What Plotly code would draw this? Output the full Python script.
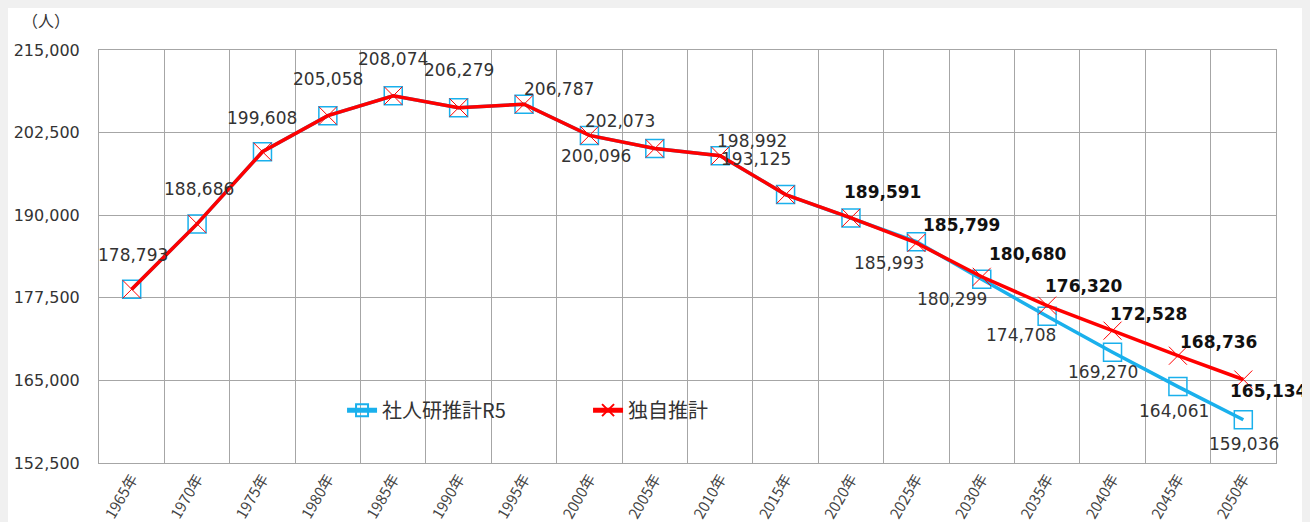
import plotly.graph_objects as go

years = ['1965年', '1970年', '1975年', '1980年', '1985年', '1990年', '1995年', '2000年', '2005年',
         '2010年', '2015年', '2020年', '2025年', '2030年', '2035年', '2040年', '2045年', '2050年']
ipss_r5 = [178793, 188686, 199608, 205058, 208074, 206279, 206787, 202073, 200096,
           198992, 193125, 189591, 185993, 180299, 174708, 169270, 164061, 159036]
own_est = [178793, 188686, 199608, 205058, 208074, 206279, 206787, 202073, 200096,
           198992, 193125, 189591, 185799, 180680, 176320, 172528, 168736, 165134]
y_ticks = [152500, 165000, 177500, 190000, 202500, 215000]

FONT = 'Noto Sans CJK JP'
NUM_FONT = 'DejaVu Sans'
BLUE = '#1ab0ec'
RED = '#ff0000'
GRID = '#a6a6a6'
TXT = '#333333'

# label offsets (px) relative to the point
hist_off = [(1, 34), (2, 35), (0, 34), (0, 37), (0, 37), (0, 38), (35, 15), (31, 14),
            (-59, -8), (32, 15), (-30, 36)]
own_off = [(32, 26), (45, 18), (46, 23), (37, 20), (36, 17), (41, 14), (26, -11)]
ipss_off = [(-27, -21), (-30, -20), (-26, -19), (-10, -20), (-4, -24), (1, -24)]

fig = go.Figure()
fig.add_trace(go.Scatter(x=years, y=ipss_r5, name='社人研推計R5', mode='lines+markers',
                         line=dict(color=BLUE, width=3.5),
                         marker=dict(symbol='square-open', size=18, color=BLUE, line=dict(width=1.5))))
fig.add_trace(go.Scatter(x=years, y=own_est, name='独自推計', mode='lines+markers',
                         line=dict(color=RED, width=3.5),
                         marker=dict(symbol='x-thin-open', size=18, color=RED, line=dict(width=1, color=RED))))

annos = []
for i, (dx, dy) in enumerate(hist_off):
    annos.append(dict(x=years[i], y=own_est[i], text=f'{own_est[i]:,}', showarrow=False,
                      xshift=dx, yshift=dy, font=dict(size=17, color=TXT, family=NUM_FONT)))
for j, (dx, dy) in enumerate(own_off):
    i = 11 + j
    annos.append(dict(x=years[i], y=own_est[i], text=f'<b>{own_est[i]:,}</b>', showarrow=False,
                      xshift=dx, yshift=dy, font=dict(size=17, color='#111111', family=NUM_FONT)))
for j, (dx, dy) in enumerate(ipss_off):
    i = 12 + j
    annos.append(dict(x=years[i], y=ipss_r5[i], text=f'{ipss_r5[i]:,}', showarrow=False,
                      xshift=dx, yshift=dy, font=dict(size=17, color=TXT, family=NUM_FONT)))
annos.append(dict(x=-0.045, y=1.073, xref='paper', yref='paper', text='（人）', showarrow=False,
                  xanchor='center', yanchor='middle', font=dict(size=16, color=TXT, family=FONT)))

fig.update_layout(
    width=1310, height=522,
    margin=dict(l=91, r=42, t=42, b=67),
    paper_bgcolor='white',
    plot_bgcolor='white',
    font=dict(family=FONT, color=TXT),
    annotations=annos,
    legend=dict(orientation='h', x=0.2065, y=0.128, xanchor='left', yanchor='middle',
                bgcolor='rgba(0,0,0,0)', font=dict(size=20, color=TXT, family=FONT),
                entrywidth=201, entrywidthmode='pixels', itemsizing='constant'),
)
fig.update_xaxes(type='category', tickson='boundaries', showgrid=True, gridcolor=GRID, gridwidth=1,
                 showline=True, linecolor=GRID, mirror=True, ticks='', tickangle=-60,
                 tickfont=dict(size=15, color='#444444', family=FONT), range=[-0.5, 17.5],
                 automargin=False)
fig.update_yaxes(range=[152500, 215000], tickvals=y_ticks, tickformat=',', showgrid=True,
                 gridcolor=GRID, gridwidth=1, showline=True, linecolor=GRID, mirror=True,
                 ticks='', ticklabelstandoff=15, zeroline=False, automargin=False,
                 tickfont=dict(size=16, color=TXT, family=NUM_FONT))

fig.write_html('out.html', post_script="document.body.style.background='#f0f0f0';")
